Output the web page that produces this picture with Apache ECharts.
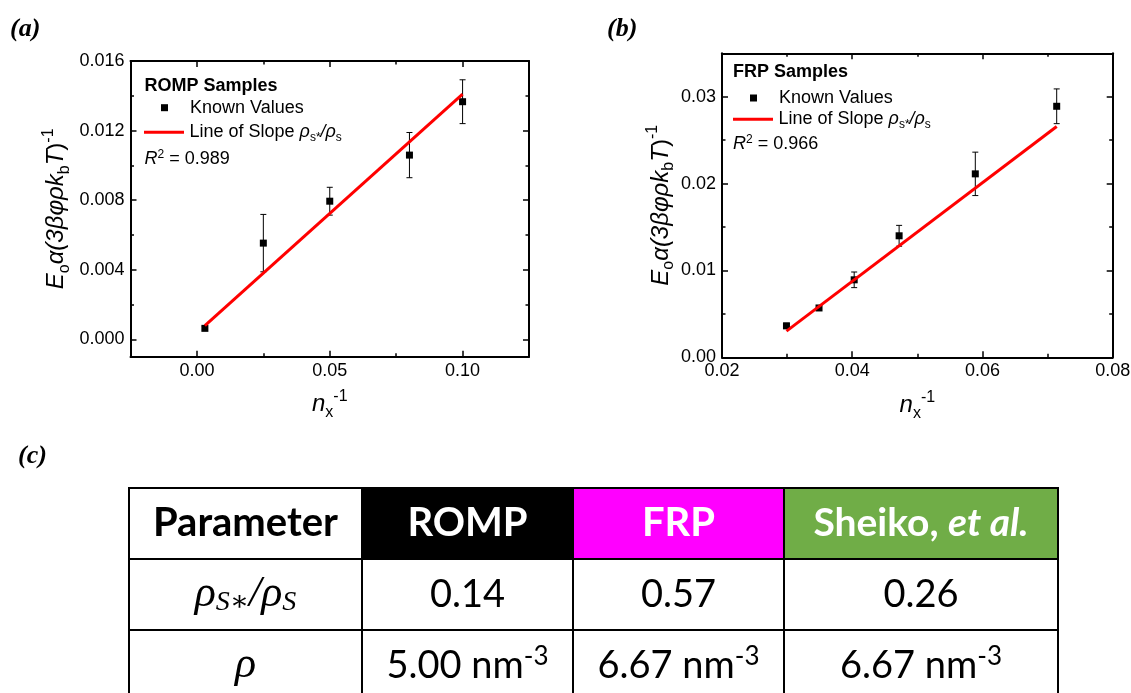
<!DOCTYPE html>
<html>
<head>
<meta charset="utf-8">
<script src="https://cdn.jsdelivr.net/npm/echarts@6/dist/echarts.min.js"></script>
<style>
  html, body { margin: 0; padding: 0; background: #fff; }
  #chart { width: 1131px; height: 693px; }
</style>
</head>
<body>
<div id="chart"></div>
<script>
// ── (a) ROMP samples ──────────────────────────────────────────────────
const ROMP_X     = [0.003, 0.025, 0.050, 0.080, 0.100];
const ROMP_Y     = [0.00063, 0.00553, 0.00794, 0.01059, 0.01366];
const ROMP_ERR   = [0.0001, 0.00165, 0.0008, 0.0013, 0.00126];
const ROMP_FIT_X = [0.003, 0.100];
const ROMP_FIT_Y = [0.00079, 0.01409];
const ROMP_X_TICKS = [0, 0.05, 0.10];
const ROMP_X_MINOR = [-0.025, 0.025, 0.075, 0.125];
const ROMP_Y_TICKS = [0, 0.004, 0.008, 0.012, 0.016];
const ROMP_Y_MINOR = [0.002, 0.006, 0.010, 0.014];

// ── (b) FRP samples ───────────────────────────────────────────────────
const FRP_X     = [0.0299, 0.0349, 0.0403, 0.0472, 0.0589, 0.0714];
const FRP_Y     = [0.00362, 0.00568, 0.00892, 0.01399, 0.02112, 0.0289];
const FRP_ERR   = [0.0003, 0.0002, 0.0009, 0.0012, 0.0025, 0.002];
const FRP_FIT_X = [0.0299, 0.0714];
const FRP_FIT_Y = [0.00301, 0.02658];
const FRP_X_TICKS = [0.02, 0.04, 0.06, 0.08];
const FRP_X_MINOR = [0.03, 0.05, 0.07];
const FRP_Y_TICKS = [0, 0.01, 0.02, 0.03];
const FRP_Y_MINOR = [0.005, 0.015, 0.025, 0.035];

// ── texts ─────────────────────────────────────────────────────────────
const Y_NAME = "{i|E}{sub|o}{i|α(3βφρk}{sub|b}{i|T}{r|)}{sup|-1}";
const X_NAME = "{i|n}{sub|x}{sup|-1}";
const ROMP_R2 = "{ri|R}{sup|2}{t| = 0.989}";
const FRP_R2  = "{ri|R}{sup|2}{t| = 0.966}";

// ── (c) table ─────────────────────────────────────────────────────────
const TABLE_HEAD = ["Parameter", "ROMP", "FRP", "{hb|Sheiko, }{hi|et al.}"];
const TABLE_ROWS = [
  ["{g|ρ}{gs|S∗}{g|/ρ}{gs|S}", "0.14", "0.57", "0.26"],
  ["{g|ρ}", "{v|5.00 nm}{vs|-3}", "{v|6.67 nm}{vs|-3}", "{v|6.67 nm}{vs|-3}"],
];
const HEAD_FILL = ["#ffffff", "#000000", "#ff00ff", "#70ad47"];
const HEAD_TEXT = ["#000000", "#ffffff", "#ffffff", "#ffffff"];
const COL_W = [233, 211, 211, 274];

const FONT = "'Liberation Sans', Arial, sans-serif";
const SERIF = "'Liberation Serif', 'Times New Roman', serif";
const TFONT = "Lato, 'Open Sans', sans-serif";
const MATH = "'Liberation Serif', 'DejaVu Serif', serif";

function tok(size, lh, extra) {
  return Object.assign({ fontFamily: FONT, fontSize: size, lineHeight: lh, fontWeight: "normal", color: "#000" }, extra || {});
}
const NAME_RICH = {
  i: tok(24, 32, { fontStyle: "italic" }),
  r: tok(24, 32),
  sub: tok(16, 16, { verticalAlign: "bottom" }),
  sup: tok(16, 16, { verticalAlign: "top" }),
};
const LEG_RICH = {
  t: tok(18, 22),
  k: tok(18, 22, { padding: [0, 0, 0, 17] }),
  g: tok(18, 22, { fontStyle: "italic" }),
  s: tok(12, 12, { verticalAlign: "bottom" }),
};
const R2_RICH = {
  t: tok(18, 20),
  ri: tok(18, 20, { fontStyle: "italic" }),
  sup: tok(12, 12, { verticalAlign: "top" }),
};

// four framed sides: main (labels + major), opposite major, two minor overlays
function frameAxes(grid, dim, min, max, major, minor, dec, name, nameGap) {
  const isX = dim === "x";
  const sides = isX ? ["bottom", "top"] : ["left", "right"];
  const tickStyle = { color: "#000", width: 1.5 };
  const base = {
    gridIndex: grid, type: "value", min, max, scale: true,
    splitLine: { show: false }, axisLabel: { show: false },
    axisTick: { show: false },
    axisLine: { show: false, onZero: false },
  };
  const majorTick = { show: true, inside: true, length: 6, lineStyle: tickStyle, customValues: major };
  const minorTick = { show: true, inside: true, length: 3.5, lineStyle: tickStyle, customValues: minor };
  const line = { show: true, onZero: false, lineStyle: { color: "#000", width: 2 } };
  const main = {
    ...base, position: sides[0], axisLine: line, axisTick: majorTick,
    axisLabel: {
      show: true, customValues: major, margin: isX ? 5 : 6,
      color: "#000", fontFamily: FONT, fontSize: 18,
      formatter: v => (+v).toFixed(dec),
    },
    name, nameLocation: "middle", nameGap, nameMoveOverlap: false,
    nameRotate: isX ? 0 : 90,
    nameTextStyle: { fontFamily: FONT, fontSize: 24, color: "#000", rich: NAME_RICH },
  };
  const opp = { ...base, position: sides[1], axisLine: line, axisTick: majorTick };
  const m1 = { ...base, position: sides[0], axisTick: minorTick };
  const m2 = { ...base, position: sides[1], axisTick: minorTick };
  return [main, opp, m1, m2];
}

function errorBars(axisIndex, xs, ys, errs) {
  return {
    type: "custom", xAxisIndex: axisIndex, yAxisIndex: axisIndex, z: 3, silent: true,
    data: xs.map((x, i) => [x, ys[i], errs[i]]),
    renderItem(params, api) {
      const x = api.value(0), y = api.value(1), e = api.value(2);
      const t = api.coord([x, y + e]);
      const b = api.coord([x, y - e]);
      const st = { stroke: "#000", lineWidth: 1 };
      const cap = 3;
      return {
        type: "group",
        children: [
          { type: "line", shape: { x1: t[0], y1: t[1], x2: b[0], y2: b[1] }, style: st },
          { type: "line", shape: { x1: t[0] - cap, y1: t[1], x2: t[0] + cap, y2: t[1] }, style: st },
          { type: "line", shape: { x1: b[0] - cap, y1: b[1], x2: b[0] + cap, y2: b[1] }, style: st },
        ],
      };
    },
  };
}

function points(axisIndex, xs, ys) {
  return {
    name: "Known Values", type: "scatter", xAxisIndex: axisIndex, yAxisIndex: axisIndex,
    symbol: "rect", symbolSize: 7, z: 4,
    itemStyle: { color: "#000", opacity: 1 },
    data: xs.map((x, i) => [x, ys[i]]),
  };
}

function fitLine(axisIndex, xs, ys) {
  return {
    name: "Line of Slope", type: "line", xAxisIndex: axisIndex, yAxisIndex: axisIndex,
    symbol: "none", z: 5,
    itemStyle: { color: "#ff0000" },
    lineStyle: { color: "#ff0000", width: 3 },
    data: xs.map((x, i) => [x, ys[i]]),
  };
}

// one legend per entry; the square sits mid-way under the red line sample
function legendItem(name, left, top) {
  const isLine = name === "Line of Slope";
  return {
    data: [{ name, icon: isLine ? "path://M0,0H40V3H0Z" : "rect" }],
    left: isLine ? left : left + 17, top, padding: 0, itemGap: 0, selectedMode: false,
    itemWidth: isLine ? 41 : 7, itemHeight: isLine ? 3 : 7,
    textStyle: { fontFamily: FONT, fontSize: 18, color: "#000", lineHeight: 22, rich: LEG_RICH },
    formatter: n => isLine ? "{t|Line of Slope }{g|ρ}{s|s*}{g|/ρ}{s|s}" : "{k|" + n + "}",
  };
}

const panelLabel = { fontFamily: SERIF, fontWeight: "bold", fontStyle: "italic", fontSize: 26, lineHeight: 30, color: "#000" };
const sampleTitle = { fontFamily: FONT, fontWeight: "bold", fontSize: 18, lineHeight: 20, color: "#000" };
const r2Style = { rich: R2_RICH, fontSize: 18, fontWeight: "normal", fontFamily: FONT, color: "#000" };

// table cells (col, row, text)
const TABLE_CELLS = [];
[TABLE_HEAD, ...TABLE_ROWS].forEach((row, r) => row.forEach((txt, c) => TABLE_CELLS.push([c, r, txt])));
const COL_EDGES = COL_W.reduce((acc, w) => { acc.push(acc[acc.length - 1] + w); return acc; }, [0]);

function ttok(size, extra) {
  return Object.assign({ fontFamily: TFONT, fontSize: size, lineHeight: 44, fill: "#000" }, extra || {});
}
const TABLE_RICH = {
  hb: ttok(39, { fontWeight: "bold", fill: "#fff" }),
  hi: ttok(39, { fontWeight: "bold", fontStyle: "italic", fill: "#fff" }),
  g: { fontFamily: MATH, fontStyle: "italic", fontSize: 44, lineHeight: 44, fill: "#000" },
  gs: { fontFamily: MATH, fontStyle: "italic", fontSize: 28, lineHeight: 28, verticalAlign: "bottom", fill: "#000" },
  v: ttok(38),
  vs: ttok(26, { lineHeight: 26, verticalAlign: "top" }),
};

const tableSeries = {
  type: "custom", xAxisIndex: 8, yAxisIndex: 8, clip: false, silent: true,
  data: TABLE_CELLS.map(d => [d[0], d[1]]),
  renderItem(params, api) {
    const [c, r, txt] = TABLE_CELLS[params.dataIndex];
    const p0 = api.coord([COL_EDGES[c], r]);
    const p1 = api.coord([COL_EDGES[c + 1], r + 1]);
    const head = r === 0;
    return {
      type: "group",
      children: [
        {
          type: "rect",
          shape: { x: p0[0], y: p0[1], width: p1[0] - p0[0], height: p1[1] - p0[1] },
          style: { fill: head ? HEAD_FILL[c] : "#fff", stroke: "#000", lineWidth: 2 },
        },
        {
          type: "text", z2: 10,
          style: {
            text: txt, x: (p0[0] + p1[0]) / 2, y: (p0[1] + p1[1]) / 2,
            align: "center", verticalAlign: "middle",
            fill: head ? HEAD_TEXT[c] : "#000",
            fontFamily: TFONT, fontSize: head ? 40 : 38, fontWeight: head ? "bold" : "normal",
            rich: TABLE_RICH,
          },
        },
      ],
    };
  },
};

const chart = echarts.init(document.getElementById("chart"), null, { renderer: "canvas" });

chart.setOption({
  backgroundColor: "#fff",
  animation: false,
  title: [
    { text: "(a)", left: 10, top: 14, padding: 0, textStyle: panelLabel },
    { text: "(b)", left: 607, top: 14, padding: 0, textStyle: panelLabel },
    { text: "(c)", left: 18, top: 441, padding: 0, textStyle: panelLabel },
    { text: "ROMP Samples", left: 144.5, top: 75.7, padding: 0, textStyle: sampleTitle },
    { text: "FRP Samples", left: 733, top: 62, padding: 0, textStyle: sampleTitle },
    { text: ROMP_R2, left: 144.5, top: 149, padding: 0, textStyle: r2Style },
    { text: FRP_R2, left: 733, top: 134, padding: 0, textStyle: r2Style },
  ],
  legend: [
    legendItem("Known Values", 144, 96.7),
    legendItem("Line of Slope", 144, 121.3),
    legendItem("Known Values", 733, 87),
    legendItem("Line of Slope", 733, 108.3),
  ],
  grid: [
    { left: 130.5, top: 61, width: 398.5, height: 295.7, outerBoundsMode: "none" },
    { left: 722, top: 53.3, width: 390.7, height: 304, outerBoundsMode: "none" },
    { left: 129, top: 488, width: 929, height: 213, outerBoundsMode: "none" },
  ],
  xAxis: [
    ...frameAxes(0, "x", -0.025, 0.125, ROMP_X_TICKS, ROMP_X_MINOR, 2, X_NAME, 32),
    ...frameAxes(1, "x", 0.02, 0.08, FRP_X_TICKS, FRP_X_MINOR, 2, X_NAME, 32),
    { gridIndex: 2, type: "value", min: 0, max: COL_EDGES[COL_EDGES.length - 1], show: false },
  ],
  yAxis: [
    ...frameAxes(0, "y", -0.001, 0.016, ROMP_Y_TICKS, ROMP_Y_MINOR, 3, Y_NAME, 58),
    ...frameAxes(1, "y", 0, 0.035, FRP_Y_TICKS, FRP_Y_MINOR, 2, Y_NAME, 45),
    { gridIndex: 2, type: "value", min: 0, max: 3, inverse: true, show: false },
  ],
  series: [
    errorBars(0, ROMP_X, ROMP_Y, ROMP_ERR),
    points(0, ROMP_X, ROMP_Y),
    fitLine(0, ROMP_FIT_X, ROMP_FIT_Y),
    errorBars(4, FRP_X, FRP_Y, FRP_ERR),
    points(4, FRP_X, FRP_Y),
    fitLine(4, FRP_FIT_X, FRP_FIT_Y),
    tableSeries,
  ],
});
</script>
</body>
</html>
